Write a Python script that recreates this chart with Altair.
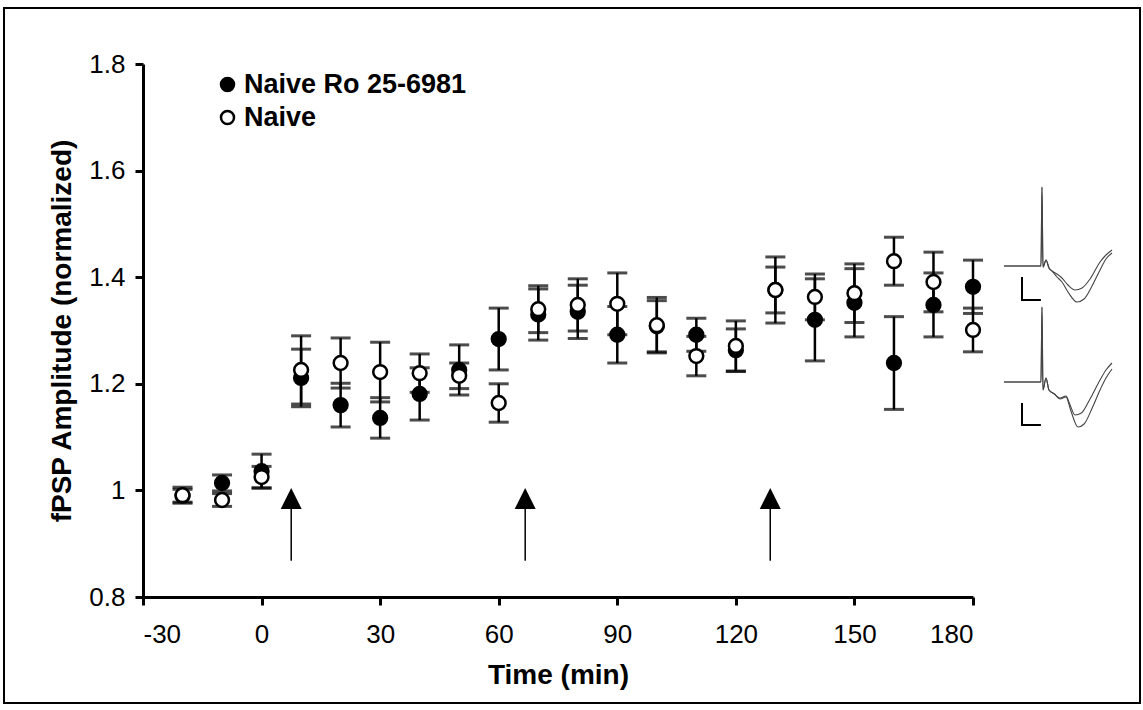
import altair as alt
import pandas as pd

# ---- fPSP time course (mean ± SEM), sampled every 10 min ----
time_min = [-20, -10, 0, 10, 20, 30, 40, 50, 60, 70, 80, 90, 100,
            110, 120, 130, 140, 150, 160, 170, 180]

ro_mean = [0.990, 1.014, 1.036, 1.211, 1.160, 1.136, 1.181, 1.226, 1.284, 1.330, 1.335,
           1.292, 1.308, 1.292, 1.263, 1.376, 1.320, 1.352, 1.239, 1.348, 1.382]
ro_sem = [0.012, 0.015, 0.032, 0.054, 0.041, 0.038, 0.049, 0.047, 0.058, 0.048, 0.050,
          0.053, 0.048, 0.031, 0.040, 0.043, 0.077, 0.064, 0.087, 0.060, 0.050]

naive_mean = [0.991, 0.982, 1.025, 1.226, 1.239, 1.222, 1.220, 1.215, 1.164, 1.340, 1.348,
              1.350, 1.310, 1.252, 1.271, 1.376, 1.363, 1.370, 1.430, 1.391, 1.301]
naive_sem = [0.015, 0.012, 0.020, 0.064, 0.047, 0.056, 0.036, 0.024, 0.036, 0.044, 0.049,
             0.058, 0.052, 0.037, 0.047, 0.062, 0.043, 0.055, 0.045, 0.056, 0.041]

series_names = ["Naive Ro 25-6981", "Naive"]

# stimulation times (arrows)
arrow_times = [7.5, 66.7, 128.7]
arrow_tail = 0.868
arrow_base = 0.97
arrow_head = 0.985

# ---- example waveforms (ms, mV relative to baseline) ----
top_shared_ms = [0.0, 4.11, 4.22, 4.33, 4.67, 5.0, 5.33]
top_shared_mv = [0.0, 0.0, 3.95, -0.05, 0.3, -0.1, -0.25]
top_a_ms = [5.89, 6.44, 7.11, 7.89, 8.67, 9.56, 10.67, 11.33, 12.0]
top_a_mv = [-0.4, -0.6, -0.95, -1.2, -1.1, -0.65, 0.2, 0.55, 0.8]
top_b_ms = [5.89, 6.44, 7.11, 8.11, 8.89, 9.78, 10.67, 11.33, 12.0]
top_b_mv = [-0.55, -0.8, -1.3, -1.8, -1.65, -1.0, -0.2, 0.35, 0.65]
top_bar_ms = [2.0, 2.0, 4.1]
top_bar_mv = [-0.55, -1.7, -1.7]

bot_shared_ms = [0.0, 4.11, 4.22, 4.33, 4.67, 5.0, 5.6]
bot_shared_mv = [0.0, 0.0, 3.75, -0.4, 0.2, -0.4, -0.6]
bot_a_ms = [6.22, 6.89, 7.3, 7.89, 8.6, 9.5, 10.67, 11.33, 12.0]
bot_a_mv = [-0.8, -0.7, -1.1, -1.65, -1.55, -0.9, 0.1, 0.6, 0.95]
bot_b_ms = [6.22, 6.89, 7.4, 8.22, 8.9, 9.8, 10.67, 11.33, 12.0]
bot_b_mv = [-0.85, -0.75, -1.4, -2.25, -2.1, -1.3, -0.4, 0.2, 0.65]
bot_bar_ms = [2.0, 2.0, 4.1]
bot_bar_mv = [-1.05, -2.15, -2.15]

FONT = "Liberation Sans"
W, H = 830, 533

rows = []
for name, means, sems in [(series_names[0], ro_mean, ro_sem),
                          (series_names[1], naive_mean, naive_sem)]:
    for t, m, s in zip(time_min, means, sems):
        rows.append({"t": t, "m": m, "lo": m - s, "hi": m + s, "group": name})
df = pd.DataFrame(rows)

xs = alt.Scale(domain=[-30, 180], nice=False, zero=False)
ys = alt.Scale(domain=[0.8, 1.8], nice=False, zero=False)

x_axis = alt.Axis(values=list(range(-30, 181, 30)), labelExpr="'' + datum.value",
                  title="Time (min)", labelPadding=16, titlePadding=14)
y_axis = alt.Axis(values=[0.8, 1.0, 1.2, 1.4, 1.6, 1.8], format=".1~f",
                  title="fPSP Amplitude (normalized)", labelPadding=10, titlePadding=12)


def X(field):
    return alt.X(field, scale=xs, axis=x_axis)


def Y(field):
    return alt.Y(field, scale=ys, axis=y_axis)


base = alt.Chart(df)

bars = base.mark_rule(color="black", strokeWidth=2.5).encode(
    x=X("t:Q"), y=Y("lo:Q"), y2="hi:Q")
caps_lo = base.mark_tick(color="black", orient="horizontal", size=20, thickness=3).encode(
    x=X("t:Q"), y=Y("lo:Q"))
caps_hi = base.mark_tick(color="black", orient="horizontal", size=20, thickness=3).encode(
    x=X("t:Q"), y=Y("hi:Q"))

points = base.mark_point(filled=True, size=190, stroke="black", strokeWidth=2.5,
                         opacity=1).encode(
    x=X("t:Q"), y=Y("m:Q"),
    fill=alt.Fill("group:N",
                  scale=alt.Scale(domain=series_names, range=["black", "white"]),
                  legend=alt.Legend(orient="none", legendX=71, legendY=7, title=None,
                                    labelFont=FONT, labelFontSize=27,
                                    labelFontWeight="bold", labelColor="black",
                                    symbolType="circle", symbolSize=170,
                                    symbolStrokeColor="black", symbolStrokeWidth=2.5,
                                    symbolOpacity=1, rowPadding=5, labelOffset=3,
                                    labelLimit=400)),
)

arrows_df = pd.DataFrame({"t": arrow_times, "tail": arrow_tail, "base": arrow_base,
                          "head": arrow_head})
arrow_shaft = alt.Chart(arrows_df).mark_rule(color="black", strokeWidth=1.5).encode(
    x=X("t:Q"), y=Y("tail:Q"), y2="base:Q")
arrow_tip = alt.Chart(arrows_df).mark_point(
    shape="M-1,1L0,-1L1,1Z", filled=True, color="black", size=440, opacity=1).encode(
    x=X("t:Q"), y=Y("head:Q"))

frame = alt.Chart(pd.DataFrame({"k": [0]})).mark_rect(
    filled=False, stroke="black", strokeWidth=2).encode(
    x=alt.value(-139), x2=alt.value(997), y=alt.value(-56), y2=alt.value(639))

main = alt.layer(bars, caps_lo, caps_hi, points, arrow_shaft, arrow_tip, frame)


def wave_frame(shared_ms, shared_mv, a_ms, a_mv, b_ms, b_mv):
    out = []
    for tr, ms, mv in [("A", a_ms, a_mv), ("B", b_ms, b_mv)]:
        for i, (u, v) in enumerate(zip(shared_ms + ms, shared_mv + mv)):
            out.append({"ms": u, "mv": v, "trace": tr, "i": i})
    return pd.DataFrame(out)


def bar_frame(ms, mv):
    return pd.DataFrame({"ms": ms, "mv": mv, "i": list(range(len(ms)))})


def trace_panel(wave_df, bar_df, y_range):
    tx = alt.Scale(domain=[0, 12], range=[861, 969], nice=False, zero=False)
    ty = alt.Scale(domain=[-3, 4], range=y_range, nice=False, zero=False)
    waves = alt.Chart(wave_df).mark_line(color="#444444", strokeWidth=1.1,
                                         interpolate="monotone").encode(
        x=alt.X("ms:Q", scale=tx, axis=None),
        y=alt.Y("mv:Q", scale=ty, axis=None),
        detail="trace:N", order="i:Q")
    scalebar = alt.Chart(bar_df).mark_line(color="black", strokeWidth=2).encode(
        x=alt.X("ms:Q", scale=tx, axis=None),
        y=alt.Y("mv:Q", scale=ty, axis=None),
        order="i:Q")
    return alt.layer(waves, scalebar)


top_panel = trace_panel(
    wave_frame(top_shared_ms, top_shared_mv, top_a_ms, top_a_mv, top_b_ms, top_b_mv),
    bar_frame(top_bar_ms, top_bar_mv), [262, 122])
bottom_panel = trace_panel(
    wave_frame(bot_shared_ms, bot_shared_mv, bot_a_ms, bot_a_mv, bot_b_ms, bot_b_mv),
    bar_frame(bot_bar_ms, bot_bar_mv), [378, 238])

chart = alt.layer(main, top_panel, bottom_panel).resolve_scale(
    x="independent", y="independent"
).properties(
    width=W, height=H,
    autosize=alt.AutoSizeParams(type="none"),
    padding={"left": 143, "top": 64, "right": 170, "bottom": 113},
    background="white",
).configure_view(stroke=None).configure_axis(
    domainColor="black", domainWidth=3, tickColor="black", tickWidth=3, tickSize=8,
    labelFont=FONT, labelFontSize=26, labelColor="black",
    titleFont=FONT, titleFontSize=28, titleFontWeight="bold", titleColor="black",
    grid=False,
)

chart.save("out.html", embed_options={"renderer": "svg", "actions": False})
